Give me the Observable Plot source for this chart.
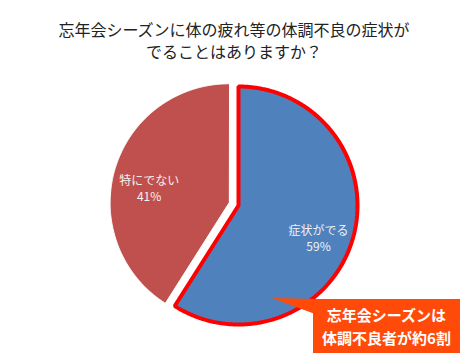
<!DOCTYPE html>
<html><head><meta charset="utf-8">
<script src="https://cdn.jsdelivr.net/npm/d3@7"></script>
<script src="https://cdn.jsdelivr.net/npm/@observablehq/plot@0.6"></script>
<style>
body{margin:0;background:#fff;}
#wrap{position:relative;width:468px;height:361px;font-family:"Noto Sans CJK JP",sans-serif;overflow:hidden;}
#title{box-sizing:border-box;height:62px;padding-top:18px;text-align:center;font-size:16px;line-height:22px;color:#222;}
#ptr{position:absolute;left:272px;top:297px;width:43px;height:17px;background:#FF4A0A;clip-path:polygon(0 1px,100% 2px,100% 100%);}
#box{position:absolute;left:313px;top:299px;width:147px;height:54px;background:#FF4A0A;color:#fff;font-weight:bold;font-size:15px;line-height:23px;text-align:center;box-sizing:border-box;padding-top:4px;}
</style></head>
<body>
<div id="wrap">
<div id="title">忘年会シーズンに体の疲れ等の体調不良の症状が<br>でることはありますか？</div>
<div id="chart"></div>
<div id="ptr"></div>
<div id="box">忘年会シーズンは<br>体調不良者が約6割</div>
</div>
<script>
const categories = ["症状がでる", "特にでない"];
const values = [59, 41];
const percentLabels = ["59%", "41%"];

const sliceColors = ["#4F81BD", "#C0504D"];
const explodeBy = [0, 0.082];
const W = 468, H = 299, cx = 238, cy = 143, R = 119;

const arcs = d3.pie().sort(null).value(d => d)(values);
const polys = [];
const labels = [];
arcs.forEach((a, i) => {
  const mid = (a.startAngle + a.endAngle) / 2;
  const ox = explodeBy[i] * Math.sin(mid), oy = explodeBy[i] * Math.cos(mid);
  const pts = [{x: ox, y: oy, k: categories[i]}];
  const n = Math.max(2, Math.ceil((a.endAngle - a.startAngle) / (Math.PI / 360)));
  for (let j = 0; j <= n; j++) {
    const t = a.startAngle + (a.endAngle - a.startAngle) * j / n;
    pts.push({x: ox + Math.sin(t), y: oy + Math.cos(t), k: categories[i]});
  }
  polys.push(pts);
  labels.push({x: ox + 0.7 * Math.sin(mid), y: oy + 0.7 * Math.cos(mid), name: categories[i], pct: percentLabels[i]});
});

const chart = Plot.plot({
  width: W, height: H, margin: 0,
  style: {fontFamily: "'Noto Sans CJK JP', sans-serif", background: "white"},
  x: {domain: [-cx / R, (W - cx) / R], range: [0, W], axis: null},
  y: {domain: [(cy - H) / R, cy / R], range: [H, 0], axis: null},
  marks: [
    Plot.line(polys[1], {x: "x", y: "y", curve: "linear-closed", fill: sliceColors[1], stroke: "white", strokeWidth: 1}),
    Plot.line(polys[0], {x: "x", y: "y", curve: "linear-closed", fill: sliceColors[0], stroke: "#FF0000", strokeWidth: 4, strokeLinejoin: "miter"}),
    Plot.text(labels, {x: "x", y: "y", text: "name", fill: "#f2f2f2", fontSize: 12, dy: 2}),
    Plot.text(labels, {x: "x", y: "y", text: "pct", fill: "#f2f2f2", fontSize: 12, dy: 18})
  ]
});
document.getElementById("chart").appendChild(chart);
</script>
</body></html>
